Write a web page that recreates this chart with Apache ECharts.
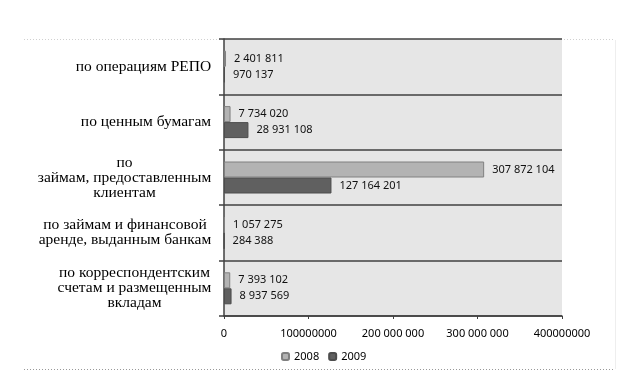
<!DOCTYPE html>
<html>
<head>
<meta charset="utf-8">
<script src="https://cdn.jsdelivr.net/npm/echarts@6/dist/echarts.min.js"></script>
<style>html,body{margin:0;padding:0;background:#fff;}#c{width:629px;height:387px;}</style>
</head>
<body>
<div id="c"></div>
<script>
var categories = [
  'по операциям РЕПО',
  'по ценным бумагам',
  'по\nзаймам, предоставленным\nклиентам',
  'по займам и финансовой\nаренде, выданным банкам',
  'по корреспондентским\nсчетам и размещенным\nвкладам'
];
var seriesNames = ['2008', '2009'];
var values2008 = [2401811, 7734020, 307872104, 1057275, 7393102];
var values2009 = [970137, 28931108, 127164201, 284388, 8937569];
var xTickLabels = ['0', '100000000', '200 000 000', '300 000 000', '400000000'];

var catFontSize = 15.5;
var catFont = catFontSize + 'px "Liberation Serif"';
var numFont = '"Noto Sans", sans-serif';

function fmt(v) {
  return String(v).replace(/\B(?=(\d{3})+(?!\d))/g, ' ');
}

// Measure label blocks so lines are centred within a right-aligned block
var cnv = document.createElement('canvas');
var ctx = cnv.getContext('2d');
ctx.font = catFont;
var rich = {};
categories.forEach(function (c, i) {
  var w = 0;
  c.split('\n').forEach(function (l) { w = Math.max(w, ctx.measureText(l).width); });
  rich['c' + i] = {
    width: Math.ceil(w) + 1,
    align: 'center',
    fontFamily: '"Liberation Serif"',
    fontSize: catFontSize,
    lineHeight: 15,
    color: '#000'
  };
});

var chart = echarts.init(document.getElementById('c'), null, { renderer: 'canvas' });
var option = {
  animation: false,
  backgroundColor: '#fff',
  grid: {
    left: 224, right: 67, top: 39, bottom: 71,
    show: true, backgroundColor: '#e6e6e6', borderWidth: 0
  },
  legend: {
    data: seriesNames,
    left: 276, top: 346,
    itemWidth: 7, itemHeight: 7, itemGap: 9,
    textStyle: { fontFamily: numFont, fontSize: 11, color: '#000' }
  },
  xAxis: {
    type: 'value',
    min: 0, max: 400000000, interval: 100000000,
    axisLine: { show: true, lineStyle: { color: '#404040', width: 1.5 } },
    axisTick: { show: true, length: 3, lineStyle: { color: '#404040' } },
    splitLine: { show: false },
    axisLabel: {
      margin: 12,
      fontFamily: numFont, fontSize: 11, color: '#000',
      formatter: function (v) { return xTickLabels[Math.round(v / 100000000)]; }
    }
  },
  yAxis: {
    type: 'category',
    inverse: true,
    data: categories,
    axisLine: { show: true, lineStyle: { color: '#404040', width: 1.5 } },
    axisTick: { show: true, length: 5, lineStyle: { color: '#404040', width: 1.5 } },
    splitLine: { show: true, lineStyle: { color: '#404040', width: 1.5 } },
    axisLabel: {
      margin: 12,
      align: 'right',
      rich: rich,
      formatter: function (v, i) {
        return v.split('\n').map(function (l) { return '{c' + i + '|' + l + '}'; }).join('\n');
      }
    }
  },
  series: [
    {
      name: seriesNames[0], type: 'bar', data: values2008,
      barWidth: 16, barGap: '0%',
      itemStyle: { color: '#b3b3b3', borderColor: '#808080', borderWidth: 1 },
      label: {
        show: true, position: 'right', distance: 8,
        fontFamily: numFont, fontSize: 11, color: '#111',
        formatter: function (p) { return fmt(p.value); }
      }
    },
    {
      name: seriesNames[1], type: 'bar', data: values2009,
      barWidth: 16, barGap: '0%',
      itemStyle: { color: '#606060', borderColor: '#4d4d4d', borderWidth: 1 },
      label: {
        show: true, position: 'right', distance: 8,
        fontFamily: numFont, fontSize: 11, color: '#111',
        formatter: function (p) { return fmt(p.value); }
      }
    }
  ],
  graphic: [
    { type: 'line', silent: true, shape: { x1: 24, y1: 39.5, x2: 615, y2: 39.5 },
      style: { stroke: '#d0d0d0', lineWidth: 1, lineDash: [1, 2] }, z: -1 },
    { type: 'line', silent: true, shape: { x1: 24, y1: 369.5, x2: 615, y2: 369.5 },
      style: { stroke: '#999', lineWidth: 1, lineDash: [1, 2] } },
    { type: 'line', silent: true, shape: { x1: 615.5, y1: 40, x2: 615.5, y2: 369 },
      style: { stroke: '#eeeeee', lineWidth: 1 } }
  ]
};
chart.setOption(option);
</script>
</body>
</html>
